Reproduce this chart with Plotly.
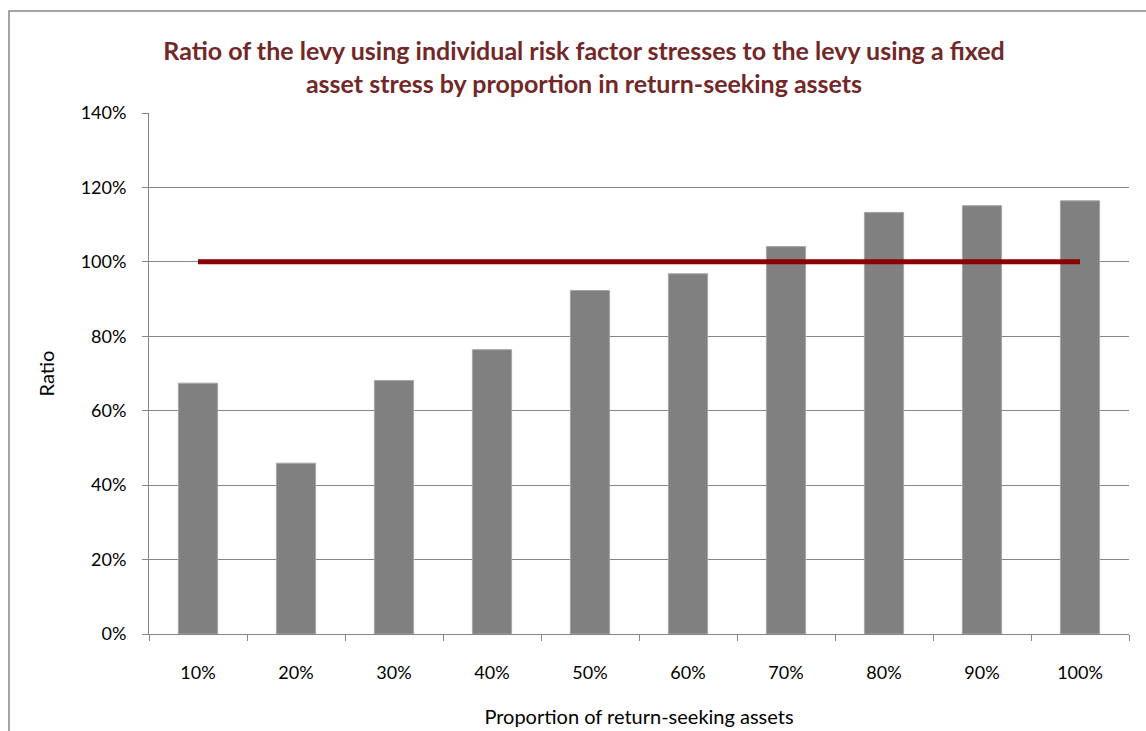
import plotly.graph_objects as go

# Proportion held in return-seeking assets
categories = ["10%", "20%", "30%", "40%", "50%", "60%", "70%", "80%", "90%", "100%"]
# Ratio of levy (individual risk factor stresses / fixed asset stress)
ratio_values = [0.674, 0.459, 0.681, 0.764, 0.923, 0.968, 1.041, 1.133, 1.151, 1.164]
# Parity reference line
parity_values = [1.0] * len(categories)
y_ticks = [0, 0.2, 0.4, 0.6, 0.8, 1.0, 1.2, 1.4]
y_tick_labels = ["0%", "20%", "40%", "60%", "80%", "100%", "120%", "140%"]

W, H = 1146, 731
L, R, T, B = 149, 17, 113, 97
pw, ph = W - L - R, H - T - B

font_main = "Lato, 'Open Sans', sans-serif"

fig = go.Figure()
fig.add_trace(go.Bar(
    x=categories, y=ratio_values,
    marker=dict(color="#808080", line=dict(color="#a6a6a6", width=1)),
    width=0.4, hoverinfo="x+y",
))
fig.add_trace(go.Scatter(
    x=categories, y=parity_values, mode="lines",
    line=dict(color="#8b0000", width=5),
    hoverinfo="x+y",
))

fig.update_layout(
    width=W, height=H,
    margin=dict(l=L, r=R, t=T, b=B),
    paper_bgcolor="white", plot_bgcolor="white",
    showlegend=False,
    font=dict(family=font_main, size=18, color="#000000"),
    title=dict(
        text="Ratio of the levy using individual risk factor stresses to the levy using a fixed<br>"
             "asset stress by proportion in return-seeking assets",
        font=dict(family=font_main, size=25, color="#722828", weight="bold"),
        x=584 / W, xanchor="center",
        y=1 - 60 / H, yanchor="middle",
    ),
    xaxis=dict(
        type="category",
        automargin=False,
        showline=True, linecolor="#868686", linewidth=1,
        ticks="outside", tickson="boundaries", ticklen=6, tickcolor="#868686",
        showgrid=False,
        ticklabelstandoff=22,
        tickfont=dict(size=18),
        title=dict(text="Proportion of return-seeking assets", font=dict(size=20), standoff=28),
    ),
    yaxis=dict(
        range=[0, 1.4],
        automargin=False,
        tickvals=y_ticks, ticktext=y_tick_labels,
        showline=True, linecolor="#868686", linewidth=1,
        ticks="outside", ticklen=6, tickcolor="#868686",
        showgrid=True, gridcolor="#868686", gridwidth=1,
        zeroline=False,
        ticklabelstandoff=12,
        tickfont=dict(size=18),
        title=dict(text="Ratio", font=dict(size=20), standoff=20),
    ),
)

# Outer chart frame
fig.add_shape(
    type="rect", xref="paper", yref="paper",
    x0=(9 - L) / pw, x1=(W + 5 - L) / pw,
    y0=-(B + 10) / ph, y1=(H - B - 11) / ph,
    line=dict(color="#868686", width=1.5), fillcolor="rgba(0,0,0,0)",
    layer="below",
)

fig.write_html("out.html")
